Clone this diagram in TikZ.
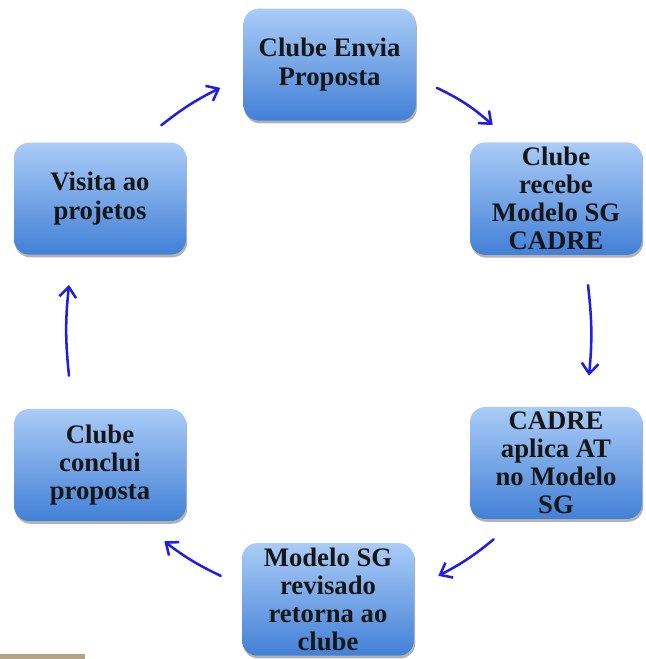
\documentclass[tikz,border=0pt]{standalone}
\usepackage{fontspec}
\setmainfont{Liberation Serif}
\usepackage{tikz}
\usepackage{xcolor}
\usetikzlibrary{shapes,arrows,positioning,calc,shadows}
\usetikzlibrary{arrows.meta}
\definecolor{boxtop}{RGB}{170,204,247}
\definecolor{boxbottom}{RGB}{66,128,214}
\definecolor{cycleblue}{RGB}{30,30,230}
\definecolor{striptan}{RGB}{182,162,132}
\definecolor{boxtext}{RGB}{22,22,22}

\begin{document}
\begin{tikzpicture}[
    stage/.style={rectangle, rounded corners=0.38cm, minimum width=4.3cm, minimum height=2.8cm,
        top color=boxtop, bottom color=boxbottom, draw=none, align=center,
        text=boxtext, font=\fontsize{19}{20}\selectfont\bfseries,
        drop shadow={shadow xshift=0.03cm, shadow yshift=-0.07cm, opacity=0.3, fill=black}},
    cycarrow/.style={-{Straight Barb[length=2.6mm, width=4.2mm]}, cycleblue, line width=1.8pt, line cap=round}
]

\useasboundingbox (0,0) rectangle (16.125,16.475);

% Stages of the cycle
\node[stage] (send) at (8.24, 14.86) {Clube Envia\\Proposta};
\node[stage] (receive) at (13.9, 11.51) {Clube\\recebe\\Modelo SG\\CADRE};
\node[stage] (apply) at (13.9, 4.9) {CADRE\\aplica AT\\no Modelo\\SG};
\node[stage] (return) at (8.2, 1.49) {Modelo SG\\revisado\\retorna ao\\clube};
\node[stage] (conclude) at (2.5, 4.85) {Clube\\conclui\\proposta};
\node[stage] (visit) at (2.5, 11.51) {Visita ao\\projetos};

% Arrows between stages
\draw[cycarrow] ([shift={(0.525,0.825)}]send.south east) to[bend left=8] ([shift={(0.575,0.425)}]receive.north west);
\draw[cycarrow] ([shift={(0.8,-0.75)}]receive.south) to[bend left=6] ([shift={(0.825,0.775)}]apply.north);
\draw[cycarrow] ([shift={(0.6,-0.5)}]apply.south west) to[bend left=6] ([shift={(0.6,-0.825)}]return.north east);
\draw[cycarrow] ([shift={(-0.525,-0.825)}]return.north west) to[bend left=6] ([shift={(-0.55,-0.5)}]conclude.south east);
\draw[cycarrow] ([shift={(-0.775,0.825)}]conclude.north) to[bend left=6] ([shift={(-0.775,-0.75)}]visit.south);
\draw[cycarrow] ([shift={(-0.625,0.425)}]visit.north east) to[bend left=6] ([shift={(-0.575,0.825)}]send.south west);

% Strip at the bottom edge
\fill[striptan] (0,0) rectangle (2.125,0.125);

\end{tikzpicture}
\end{document}
